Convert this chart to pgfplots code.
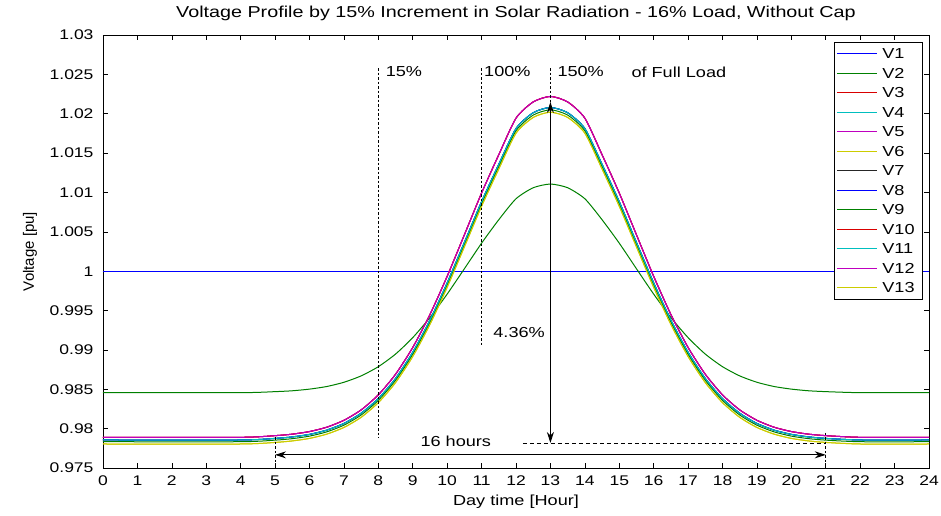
\documentclass[border=0pt]{standalone}
\usepackage{fontspec}
\setmainfont{Liberation Sans}[FakeStretch=1.25]
\newfontfamily\plainfont{Liberation Sans}
\usepackage{pgfplots}
\pgfplotsset{compat=1.18}
\usepackage{pgfplotstable}
\usetikzlibrary{arrows.meta}
\definecolor{mb}{rgb}{0,0,1}
\definecolor{mg}{rgb}{0,0.5,0}
\definecolor{mr}{rgb}{0.85,0,0}
\definecolor{mc}{rgb}{0,0.75,0.75}
\definecolor{mm}{rgb}{0.75,0,0.75}
\definecolor{my}{rgb}{0.8,0.8,0}
\definecolor{mk}{rgb}{0.15,0.15,0.15}

% x: hour; V2; U (upper group); M (middle); G (green); Y (yellow)
\pgfplotstableread{
x    V2      U       M       G       Y
0    0.98457 0.97890 0.97856 0.97834 0.97805
4    0.98457 0.97890 0.97856 0.97834 0.97805
5    0.98470 0.97911 0.97876 0.97854 0.97825
5.5  0.98481 0.97930 0.97895 0.97873 0.97844
6    0.98502 0.97963 0.97927 0.97905 0.97876
6.5  0.98535 0.98018 0.97981 0.97959 0.97930
7    0.98589 0.98106 0.98066 0.98044 0.98015
7.5  0.98670 0.98238 0.98196 0.98173 0.98144
8    0.98787 0.98429 0.98382 0.98359 0.98330
8.5  0.98947 0.98691 0.98637 0.98614 0.98585
9    0.99156 0.99031 0.98970 0.98945 0.98916
9.5  0.99412 0.99450 0.99378 0.99353 0.99324
10   0.99709 0.99935 0.99851 0.99826 0.99796
10.5 1.00031 1.00462 1.00365 1.00338 1.00309
11   1.00356 1.00993 1.00883 1.00855 1.00825
11.5 1.00654 1.01480 1.01358 1.01329 1.01299
12   1.00920 1.01944 1.01812 1.01783 1.01753
12.5 1.01060 1.02150 1.02013 1.01983 1.01953
13   1.01107 1.02220 1.02080 1.02050 1.02020
13.5 1.01060 1.02150 1.02013 1.01983 1.01953
14   1.00920 1.01944 1.01812 1.01783 1.01753
14.5 1.00654 1.01480 1.01358 1.01329 1.01299
15   1.00356 1.00993 1.00883 1.00855 1.00825
15.5 1.00031 1.00462 1.00365 1.00338 1.00309
16   0.99709 0.99935 0.99851 0.99826 0.99796
16.5 0.99412 0.99450 0.99378 0.99353 0.99324
17   0.99156 0.99031 0.98970 0.98945 0.98916
17.5 0.98947 0.98691 0.98637 0.98614 0.98585
18   0.98787 0.98429 0.98382 0.98359 0.98330
18.5 0.98670 0.98238 0.98196 0.98173 0.98144
19   0.98589 0.98106 0.98066 0.98044 0.98015
19.5 0.98535 0.98018 0.97981 0.97959 0.97930
20   0.98502 0.97963 0.97927 0.97905 0.97876
20.5 0.98481 0.97930 0.97895 0.97873 0.97844
21   0.98470 0.97911 0.97876 0.97854 0.97825
22   0.98457 0.97890 0.97856 0.97834 0.97805
24   0.98457 0.97890 0.97856 0.97834 0.97805
}\vdata

\begin{document}
\begin{tikzpicture}
\useasboundingbox (-103pt,-47pt) rectangle (838pt,468pt);
\begin{axis}[
  at={(0,0)}, anchor=south west,
  scale only axis, width=826pt, height=433pt,
  xmin=0, xmax=24, ymin=0.975, ymax=1.03,
  xtick={0,1,...,24},
  ytick={0.975,0.98,0.985,0.99,0.995,1,1.005,1.01,1.015,1.02,1.025,1.03},
  yticklabels={0.975,0.98,0.985,0.99,0.995,1,1.005,1.01,1.015,1.02,1.025,1.03},
  scaled y ticks=false,
  /pgf/number format/assume math mode=true,
  tick align=inside, major tick length=5pt,
  tick style={black, line width=0.6pt},
  axis line style={black, line width=0.7pt},
  ticklabel style={font=\fontsize{14}{16}\selectfont},
  xticklabel style={anchor=base, yshift=-17pt},
  yticklabel style={xshift=-6pt},
  title={Voltage Profile by 15\% Increment in Solar Radiation - 16\% Load, Without Cap},
  title style={at={(axis description cs:0.5,1.027)}, anchor=base, font=\fontsize{15.8}{18}\selectfont},
  xlabel={Day time [Hour]},
  xlabel style={at={(axis description cs:0.5,-0.0855)}, anchor=base, font=\fontsize{14.5}{16}\selectfont},
  ylabel={Voltage [pu]},
  ylabel style={at={(axis description cs:-0.0884,0.5)}, anchor=center, font=\plainfont\fontsize{15}{17}\selectfont},
  legend style={at={(rel axis cs:0.992,0.984)}, anchor=north east, draw=black, fill=white,
    font=\fontsize{14.5}{16}\selectfont, line width=0.6pt, row sep=0.5pt,
    nodes={inner sep=4.5pt, text height=10pt, text depth=0pt}},
  legend cell align=left,
  legend image code/.code={\draw[#1, line width=1pt] (0pt,0pt) -- (40pt,0pt);},
  every axis plot/.append style={line width=1pt, smooth, tension=0.4},
]
\addplot[mb] coordinates {(0,1) (24,1)};
\addlegendentry{V1}
\addplot[mg] table[x=x,y=V2] {\vdata};
\addlegendentry{V2}
\addplot[mr] table[x=x,y=U] {\vdata};
\addlegendentry{V3}
\addplot[mc] table[x=x,y=M] {\vdata};
\addlegendentry{V4}
\addplot[mm] table[x=x,y=U] {\vdata};
\addlegendentry{V5}
\addplot[my] table[x=x,y=Y] {\vdata};
\addlegendentry{V6}
\addplot[mk] table[x=x,y=M] {\vdata};
\addlegendentry{V7}
\addplot[mb] table[x=x,y=M] {\vdata};
\addlegendentry{V8}
\addplot[mg] table[x=x,y=G] {\vdata};
\addlegendentry{V9}
\addplot[mr] table[x=x,y=U] {\vdata};
\addlegendentry{V10}
\addplot[mc] table[x=x,y=M] {\vdata};
\addlegendentry{V11}
\addplot[mm] table[x=x,y=U] {\vdata};
\addlegendentry{V12}
\addplot[my] table[x=x,y=Y] {\vdata};
\addlegendentry{V13}

% annotations
\draw[black, line width=0.7pt, dash pattern=on 2.5pt off 2pt] (8,1.0258) -- (8,0.9788);
\draw[black, line width=0.7pt, dash pattern=on 2.5pt off 2pt] (11,1.0258) -- (11,0.9905);
\draw[black, line width=0.7pt, dash pattern=on 2.5pt off 2pt] (13,1.0258) -- (13,1.0215);
\draw[black, line width=0.7pt, dash pattern=on 2.5pt off 2pt] (5,0.9789) -- (5,0.975);
\draw[black, line width=0.7pt, dash pattern=on 2.5pt off 2pt] (21,0.97945) -- (21,0.975);
\draw[black, line width=0.7pt, dash pattern=on 4pt off 3pt] (12.2,0.97818) -- (21,0.97818);
\draw[black, line width=0.9pt, {Stealth[length=11pt,width=7pt]}-{Stealth[length=11pt,width=7pt]}] (5,0.97667) -- (21,0.97667);
\draw[black, line width=0.9pt, {Stealth[length=11pt,width=7pt]}-{Stealth[length=11pt,width=7pt]}] (13,0.97818) -- (13,1.0215);
\node[anchor=west, inner sep=0pt, font=\fontsize{14.5}{16}\selectfont] at (8.21,1.0253) {15\%};
\node[anchor=west, inner sep=0pt, font=\fontsize{14.5}{16}\selectfont] at (11.07,1.0253) {100\%};
\node[anchor=west, inner sep=0pt, font=\fontsize{14.5}{16}\selectfont] at (13.2,1.0253) {150\%};
\node[anchor=west, inner sep=0pt, font=\fontsize{14.5}{16}\selectfont] at (15.35,1.0253) {of Full Load};
\node[inner sep=0pt, font=\fontsize{14.5}{16}\selectfont] at (12.09,0.99215) {4.36\%};
\node[inner sep=0pt, font=\fontsize{14.5}{16}\selectfont] at (10.25,0.97843) {16 hours};
\end{axis}
\end{tikzpicture}
\end{document}
